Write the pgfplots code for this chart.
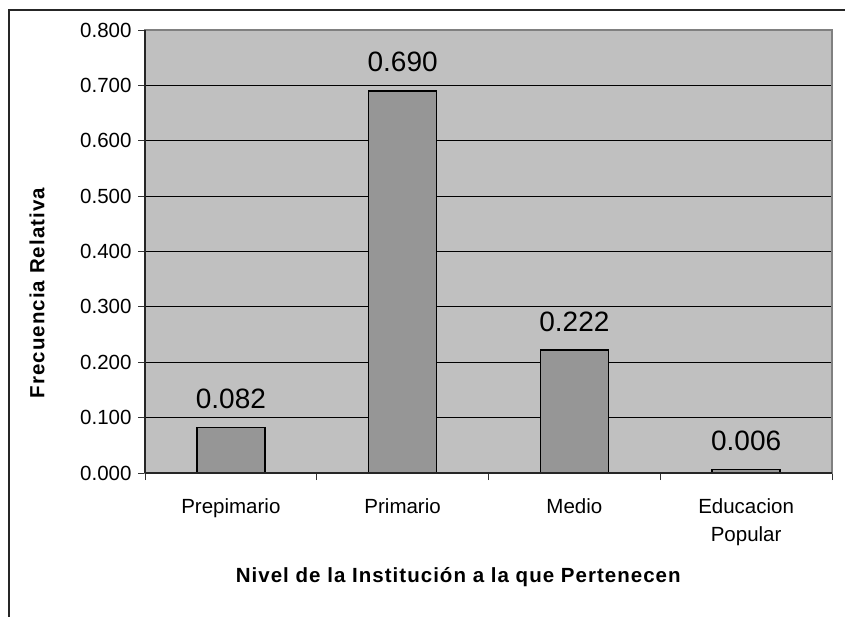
\documentclass[border=0pt]{standalone}
\usepackage{fontspec}
\setmainfont{Liberation Sans}
\usepackage{pgfplots}
\pgfplotsset{compat=1.18}
\definecolor{plotBg}{HTML}{C0C0C0}
\definecolor{barFill}{HTML}{969696}
\definecolor{frameGray}{HTML}{808080}
\newcommand{\tickfont}{\fontsize{20.5}{28}\selectfont}
\newcommand{\valfont}{\fontsize{28}{32}\selectfont}
\newcommand{\titlefont}{\fontsize{20.5}{24}\selectfont\bfseries\addfontfeature{LetterSpace=5}}
\begin{document}
\begin{tikzpicture}
  \useasboundingbox (0pt,0pt) rectangle (845pt,616pt);
  \draw[line width=1.4pt, black!85] (9pt,-5pt) -- (9pt,606pt) -- (850pt,606pt);
  \begin{axis}[
    at={(145pt,143pt)},
    anchor=south west,
    scale only axis,
    width=687pt,
    height=443pt,
    axis background/.style={fill=plotBg},
    axis line style={draw=frameGray, line width=1.2pt},
    ymin=0, ymax=0.8,
    ytick={0,0.1,...,0.8},
    xmin=-0.5, xmax=3.5,
    xtick={0,1,2,3},
    xticklabels={Prepimario, Primario, Medio, {Educacion\\Popular}},
    minor xtick={-0.5,0.5,1.5,2.5,3.5},
    major x tick style={draw=none},
    minor x tick style={draw=black!80, line width=1pt},
    y tick style={draw=black!80, line width=1pt},
    major tick length=7pt,
    minor tick length=7pt,
    tick align=outside,
    tick pos=left,
    ymajorgrids,
    major grid style={draw=black, line width=0.9pt},
    /pgf/number format/assume math mode=true,
    yticklabel={\pgfmathprintnumber[fixed, fixed zerofill, precision=3]{\tick}},
    yticklabel style={font=\tickfont, anchor=east, xshift=-3pt},
    xticklabel style={font=\tickfont, align=center, anchor=north, yshift=-15pt},
    xlabel={Nivel de la Institución a la que Pertenecen},
    ylabel={Frecuencia Relativa},
    xlabel style={font=\titlefont, at={(rel axis cs:0.456,-0.235)}, anchor=center},
    ylabel style={font=\titlefont, at={(rel axis cs:-0.157,0.406)}, anchor=center, rotate=0},
    nodes near coords,
    nodes near coords style={font=\valfont, anchor=base, yshift=19pt,
      /pgf/number format/fixed, /pgf/number format/fixed zerofill,
      /pgf/number format/precision=3},
  ]
    \addplot[ybar, bar width=68pt, fill=barFill, draw=black, line width=1.6pt]
      coordinates {(0,0.082) (1,0.690) (2,0.222) (3,0.006)};
  \end{axis}
  \draw[line width=1.4pt, black!85] (145pt,143pt) -- (145pt,586pt);
  \draw[line width=1.4pt, black!85] (145pt,143pt) -- (832pt,143pt);
\end{tikzpicture}
\end{document}
